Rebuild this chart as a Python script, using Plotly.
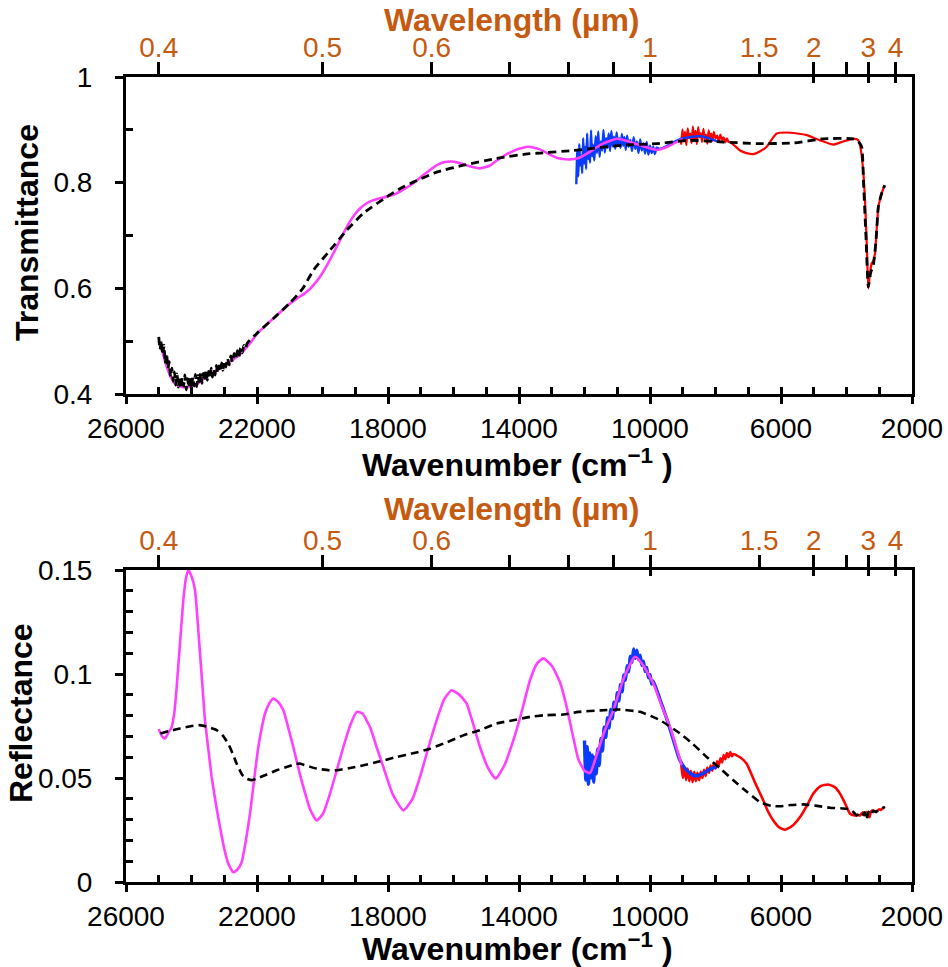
import plotly.graph_objects as go

# ================= TOP PANEL: Transmittance =================
# magenta (UV-Vis measured)
t_vis_wn = [25000, 24900, 24800, 24700, 24600, 24450, 24250, 24000, 23750, 23536, 23200, 22925,
            22600, 22418, 22200, 22010, 21750, 21500, 21250, 21000, 20750, 20483, 20276, 20076,
            19870, 19670, 19460, 19261, 19050, 18855, 18650, 18448, 18150, 17838, 17530, 17227,
            16970, 16718, 16480, 16260, 16030, 15802, 15500, 15191, 14900, 14700, 14479, 14100,
            13716, 13359, 13053, 12800, 12443, 12200, 11900, 11500, 11017, 10700, 10305, 10000,
            9796, 9500, 9250, 9084, 9000]
t_vis = [0.500, 0.482, 0.460, 0.442, 0.428, 0.417, 0.413, 0.414, 0.422, 0.434, 0.446, 0.457,
         0.471, 0.481, 0.497, 0.513, 0.529, 0.543, 0.557, 0.571, 0.582, 0.593, 0.606, 0.622,
         0.643, 0.666, 0.692, 0.716, 0.737, 0.751, 0.761, 0.767, 0.772, 0.777, 0.787, 0.799,
         0.812, 0.824, 0.834, 0.839, 0.840, 0.837, 0.831, 0.827, 0.832, 0.841, 0.850, 0.862,
         0.868, 0.863, 0.853, 0.846, 0.844, 0.846, 0.856, 0.872, 0.883, 0.879, 0.871, 0.865,
         0.862, 0.867, 0.875, 0.880, 0.882]

# blue (NIR measured), noisy part then smooth part
t_nir_wn = [12250, 12220, 12190, 12160, 12130, 12100, 12070, 12040, 12010, 11980, 11950, 11920,
            11890, 11860, 11830, 11800, 11770, 11740, 11700, 11660, 11620, 11580, 11540, 11500,
            11460, 11420, 11380, 11340, 11300, 11260, 11220, 11180, 11140, 11100, 11060, 11020,
            10980, 10940, 10900, 10860, 10820, 10780, 10740, 10700, 10650, 10600, 10550, 10500,
            10450, 10400, 10350, 10300, 10250, 10200, 10150, 10100, 10050, 10000, 9950, 9900,
            9850, 9800, 9700, 9500, 9300, 9100, 8900, 8700, 8500, 8300, 8100, 7950]
t_nir = [0.797, 0.862, 0.812, 0.873, 0.833, 0.851, 0.818, 0.884, 0.836, 0.868, 0.826, 0.893,
         0.845, 0.861, 0.838, 0.899, 0.850, 0.872, 0.842, 0.888, 0.856, 0.897, 0.849, 0.878,
         0.861, 0.900, 0.857, 0.884, 0.866, 0.893, 0.860, 0.898, 0.869, 0.887, 0.864, 0.895,
         0.871, 0.884, 0.866, 0.892, 0.870, 0.886, 0.862, 0.889, 0.868, 0.881, 0.860, 0.886,
         0.864, 0.878, 0.856, 0.882, 0.861, 0.874, 0.855, 0.877, 0.853, 0.870, 0.856, 0.868,
         0.854, 0.866, 0.864, 0.869, 0.876, 0.882, 0.885, 0.887, 0.888, 0.886, 0.882, 0.878]

# red (FTIR measured)
t_ir_wn = [9050, 9010, 8970, 8930, 8890, 8850, 8810, 8770, 8730, 8690, 8650, 8610, 8570, 8530,
           8490, 8450, 8410, 8370, 8330, 8290, 8250, 8210, 8170, 8130, 8090, 8050, 8000, 7950,
           7900, 7850, 7800, 7750, 7700, 7650, 7600, 7557, 7400, 7252, 7050, 6845, 6650, 6438,
           6280, 6132, 5827, 5500, 5216, 4800, 4402, 4100, 3792, 3650, 3588, 3500, 3435, 3380,
           3334, 3290, 3232, 3180, 3130, 3080, 3028, 2960, 2875, 2830]
t_ir = [0.872, 0.901, 0.878, 0.896, 0.871, 0.903, 0.884, 0.893, 0.875, 0.906, 0.880, 0.898,
        0.873, 0.905, 0.886, 0.894, 0.877, 0.902, 0.883, 0.891, 0.874, 0.899, 0.885, 0.893,
        0.879, 0.896, 0.884, 0.889, 0.878, 0.891, 0.881, 0.886, 0.876, 0.884, 0.877, 0.877,
        0.869, 0.861, 0.856, 0.854, 0.859, 0.868, 0.882, 0.893, 0.895, 0.893, 0.890, 0.880,
        0.872, 0.878, 0.883, 0.881, 0.871, 0.830, 0.767, 0.680, 0.600, 0.625, 0.647, 0.652,
        0.666, 0.710, 0.754, 0.772, 0.789, 0.795]

# black dashed (model / combined)
t_fit_wn = [25000, 24960, 24920, 24880, 24840, 24800, 24760, 24720, 24680, 24640, 24600, 24560,
            24520, 24480, 24440, 24400, 24360, 24320, 24280, 24240, 24200, 24160, 24120, 24080,
            24040, 24000, 23960, 23920, 23880, 23840, 23800, 23760, 23720, 23680, 23640, 23600,
            23560, 23520, 23480, 23440, 23400, 23360, 23320, 23280, 23240, 23200, 23160, 23120,
            23080, 23040, 23000, 22950, 22900, 22850, 22800, 22750, 22700, 22650, 22600, 22550,
            22500, 22450, 22400, 22350, 22300, 22000, 21500, 21000, 20600, 20280, 19771, 19261,
            18753, 18041, 17600, 17227, 16514, 15700, 14682, 13664, 13359, 12341, 10815, 9796,
            8779, 7762, 6743, 5625, 4708, 3792, 3650, 3537, 3480, 3400, 3334, 3260, 3181, 3100,
            3028, 2950, 2875, 2830]
t_fit = [0.508, 0.484, 0.502, 0.474, 0.492, 0.458, 0.477, 0.448, 0.461, 0.432, 0.449, 0.424,
         0.442, 0.417, 0.438, 0.413, 0.433, 0.410, 0.431, 0.415, 0.436, 0.408, 0.429, 0.412,
         0.434, 0.410, 0.432, 0.415, 0.437, 0.414, 0.435, 0.418, 0.440, 0.420, 0.439, 0.424,
         0.445, 0.426, 0.443, 0.430, 0.449, 0.432, 0.448, 0.436, 0.454, 0.439, 0.453, 0.442,
         0.459, 0.445, 0.462, 0.451, 0.468, 0.455, 0.472, 0.460, 0.477, 0.466, 0.482, 0.471,
         0.487, 0.478, 0.492, 0.486, 0.496, 0.515, 0.543, 0.572, 0.600, 0.634, 0.672, 0.710,
         0.742, 0.773, 0.790, 0.801, 0.820, 0.833, 0.846, 0.855, 0.856, 0.861, 0.871, 0.874,
         0.880, 0.877, 0.874, 0.875, 0.883, 0.883, 0.879, 0.868, 0.800, 0.690, 0.603, 0.630,
         0.644, 0.690, 0.754, 0.775, 0.789, 0.795]

# ================= BOTTOM PANEL: Reflectance =================
r_vis_wn = [25000, 24900, 24809, 24700, 24605, 24520, 24452, 24350, 24250, 24170, 24098, 24000,
            23893, 23820, 23740, 23660, 23588, 23480, 23384, 23250, 23130, 23000, 22876, 22723,
            22600, 22468, 22340, 22214, 22090, 21960, 21856, 21756, 21620, 21502, 21350, 21196,
            21050, 20891, 20740, 20586, 20380, 20178, 19980, 19771, 19560, 19364, 19150, 18957,
            18780, 18550, 18350, 18143, 17850, 17532, 17250, 17023, 16760, 16514, 16280, 16056,
            15820, 15598, 15400, 15191, 14950, 14712, 14450, 14173, 13950, 13664, 13450, 13257,
            13000, 12748, 12545, 12350, 12188, 12000, 11832, 11650, 11400, 11120, 10800, 10458,
            10200, 9898, 9650, 9389, 9200, 9033]
r_vis = [0.0735, 0.0700, 0.0690, 0.0720, 0.0745, 0.0820, 0.0938, 0.1150, 0.1355, 0.1460, 0.1500,
         0.1470, 0.1404, 0.1270, 0.1099, 0.0930, 0.0778, 0.0630, 0.0505, 0.0370, 0.0264, 0.0160,
         0.0088, 0.0047, 0.0060, 0.0095, 0.0200, 0.0328, 0.0490, 0.0649, 0.0740, 0.0810, 0.0860,
         0.0882, 0.0865, 0.0826, 0.0745, 0.0649, 0.0550, 0.0457, 0.0350, 0.0296, 0.0330, 0.0425,
         0.0540, 0.0649, 0.0755, 0.0818, 0.0810, 0.0745, 0.0650, 0.0553, 0.0420, 0.0344, 0.0400,
         0.0505, 0.0650, 0.0778, 0.0880, 0.0922, 0.0900, 0.0858, 0.0760, 0.0649, 0.0550, 0.0497,
         0.0560, 0.0681, 0.0800, 0.0970, 0.1050, 0.1075, 0.1040, 0.0960, 0.0842, 0.0700, 0.0590,
         0.0535, 0.0524, 0.0600, 0.0720, 0.0826, 0.0980, 0.1083, 0.1040, 0.0954, 0.0850, 0.0745,
         0.0650, 0.0561]

r_nir_wn = [12000, 11960, 11920, 11880, 11840, 11800, 11760, 11720, 11680, 11640, 11600, 11550,
            11500, 11450, 11400, 11350, 11300, 11250, 11200, 11150, 11100, 11050, 11000, 10950,
            10900, 10850, 10800, 10750, 10700, 10650, 10600, 10550, 10500, 10450, 10400, 10350,
            10300, 10250, 10200, 10150, 10100, 10050, 10000, 9950, 9900, 9700, 9500, 9300, 9100,
            8900, 8700, 8576, 8400, 8200, 7964]
r_nir = [0.0680, 0.0490, 0.0650, 0.0470, 0.0620, 0.0500, 0.0610, 0.0480, 0.0600, 0.0520, 0.0640,
         0.0560, 0.0690, 0.0630, 0.0745, 0.0695, 0.0790, 0.0740, 0.0830, 0.0785, 0.0865, 0.0825,
         0.0910, 0.0870, 0.0950, 0.0915, 0.0995, 0.0970, 0.1040, 0.1010, 0.1085, 0.1055, 0.1120,
         0.1075, 0.1115, 0.1068, 0.1090, 0.1042, 0.1062, 0.1012, 0.1032, 0.0982, 0.0998, 0.0952,
         0.0966, 0.0880, 0.0790, 0.0690, 0.0590, 0.0540, 0.0515, 0.0510, 0.0520, 0.0540, 0.0555]

r_ir_wn = [9050, 9000, 8950, 8900, 8850, 8800, 8750, 8700, 8650, 8600, 8550, 8500, 8450, 8400,
           8350, 8300, 8250, 8200, 8150, 8100, 8050, 8000, 7950, 7900, 7850, 7800, 7750, 7700,
           7650, 7600, 7550, 7500, 7456, 7250, 7048, 6800, 6540, 6400, 6235, 6050, 5878, 5650,
           5420, 5200, 5013, 4800, 4555, 4350, 4198, 4050, 3893, 3750, 3650, 3588, 3500, 3450,
           3384, 3300, 3250, 3181, 3100, 3000, 2950, 2875, 2830]
r_ir = [0.0570, 0.0500, 0.0555, 0.0490, 0.0545, 0.0485, 0.0535, 0.0480, 0.0530, 0.0485, 0.0525,
        0.0490, 0.0530, 0.0500, 0.0540, 0.0510, 0.0550, 0.0525, 0.0560, 0.0535, 0.0570, 0.0545,
        0.0580, 0.0560, 0.0595, 0.0575, 0.0610, 0.0590, 0.0620, 0.0600, 0.0625, 0.0605, 0.0615,
        0.0600, 0.0569, 0.0480, 0.0392, 0.0340, 0.0296, 0.0262, 0.0251, 0.0270, 0.0312, 0.0370,
        0.0425, 0.0460, 0.0469, 0.0455, 0.0425, 0.0380, 0.0328, 0.0320, 0.0322, 0.0320, 0.0335,
        0.0322, 0.0336, 0.0312, 0.0340, 0.0344, 0.0338, 0.0350, 0.0346, 0.0357, 0.0360]

r_fit_wn = [24950, 24700, 24351, 24000, 23740, 23500, 23231, 23050, 22876, 22750, 22621, 22450,
            22316, 22150, 22010, 21700, 21400, 21050, 20800, 20687, 20400, 20178, 19800, 19567,
            19200, 18753, 18250, 17735, 17200, 16718, 16200, 15700, 15191, 14682, 14173, 13664,
            13200, 12646, 12188, 11500, 10916, 10305, 9695, 9084, 8700, 8270, 7850, 7456, 7050,
            6641, 6300, 6031, 5700, 5318, 4900, 4504, 3995, 3850, 3750, 3690, 3600, 3520, 3450,
            3384, 3330, 3260, 3181, 3100, 3000, 2875, 2830]
r_fit = [0.0714, 0.0725, 0.0738, 0.0750, 0.0754, 0.0745, 0.0730, 0.0705, 0.0665, 0.0620, 0.0569,
         0.0515, 0.0497, 0.0490, 0.0497, 0.0517, 0.0537, 0.0555, 0.0568, 0.0569, 0.0555, 0.0545,
         0.0537, 0.0537, 0.0547, 0.0561, 0.0580, 0.0601, 0.0620, 0.0641, 0.0672, 0.0705, 0.0730,
         0.0762, 0.0778, 0.0794, 0.0802, 0.0805, 0.0818, 0.0825, 0.0829, 0.0818, 0.0778, 0.0714,
         0.0665, 0.0601, 0.0545, 0.0489, 0.0435, 0.0384, 0.0366, 0.0364, 0.0370, 0.0373, 0.0366,
         0.0357, 0.0352, 0.0345, 0.0330, 0.0320, 0.0328, 0.0318, 0.0335, 0.0300, 0.0338, 0.0322,
         0.0342, 0.0336, 0.0350, 0.0357, 0.0362]

# ---- axis tick definitions ----
wn_major = [26000, 22000, 18000, 14000, 10000, 6000, 2000]
wn_minor = [w for w in range(25000, 2000, -1000) if w not in wn_major]
wl_ticks = [0.4, 0.5, 0.6, 0.7, 0.8, 0.9, 1, 1.5, 2, 2.5, 3, 4]
wl_labels = ["0.4", "0.5", "0.6", "", "", "", "1", "1.5", "2", "", "3", "4"]
wl_cross = [1, 2, 3, 4]
t_major = [0.4, 0.6, 0.8, 1.0]
t_major_text = ["0.4", "0.6", "0.8", "1"]
t_minor = [0.5, 0.7, 0.9]
r_major = [0, 0.05, 0.10, 0.15]
r_major_text = ["0", "0.05", "0.1", "0.15"]
r_minor = [0.01, 0.02, 0.03, 0.04, 0.06, 0.07, 0.08, 0.09, 0.11, 0.12, 0.13, 0.14]

MAGENTA = "#FF40FF"
BLUE = "#0A3CFF"
RED = "#FF0000"
ORANGE = "#C55A11"
FONT = "Liberation Sans, Arial, sans-serif"
TICKSZ = 28
TITLESZ = 32

fig = go.Figure()


def add(x, y, color, width, xa, ya, dash=None):
    fig.add_trace(go.Scatter(x=x, y=y, mode="lines", xaxis=xa, yaxis=ya,
                             line=dict(color=color, width=width, dash=dash, shape="spline", smoothing=0.5),
                             showlegend=False, hoverinfo="skip"))


# top panel traces (draw order: red, blue, magenta, dashed)
add(t_ir_wn, t_ir, RED, 2.2, "x", "y")
add(t_nir_wn, t_nir, BLUE, 2.4, "x", "y")
add(t_vis_wn, t_vis, MAGENTA, 2.6, "x", "y")
add(t_fit_wn, t_fit, "black", 2.8, "x", "y", dash="8px,5px")
# bottom panel traces
add(r_ir_wn, r_ir, RED, 2.6, "x3", "y2")
add(r_nir_wn, r_nir, BLUE, 3.4, "x3", "y2")
add(r_vis_wn, r_vis, MAGENTA, 2.6, "x3", "y2")
add(r_fit_wn, r_fit, "black", 2.6, "x3", "y2", dash="8px,5px")

# empty traces to anchor the overlay axes
for xa, ya in [("x2", "y"), ("x5", "y"), ("x7", "y"), ("x4", "y2"), ("x6", "y2"), ("x8", "y2")]:
    fig.add_trace(go.Scatter(x=[None], y=[None], xaxis=xa, yaxis=ya, showlegend=False, hoverinfo="skip"))

wl_pos = [10000 / w for w in wl_ticks]
cross_pos = [10000 / w for w in wl_cross]
RANGE = [26000, 2000]

base_x = dict(range=RANGE, showgrid=False, zeroline=False, fixedrange=True, automargin=False)


def wn_axis(anchor):
    return dict(base_x, anchor=anchor, tickmode="array", tickvals=wn_major,
                ticktext=[str(v) for v in wn_major],
                ticks="outside", ticklen=7, tickwidth=2.5, tickcolor="black",
                showline=True, linewidth=3, linecolor="black",
                tickfont=dict(family=FONT, size=TICKSZ, color="black"), ticklabelstandoff=0,
                minor=dict(tickmode="array", tickvals=wn_minor, ticks="inside", ticklen=7,
                           tickwidth=2.5, tickcolor="black", showgrid=False))


def wn_cross(over, anchor):
    return dict(base_x, overlaying=over, anchor=anchor, tickmode="array", tickvals=wn_major,
                ticks="inside", ticklen=7, tickwidth=2.5, tickcolor="black",
                showticklabels=False, showline=False)


def wl_axis(over, anchor):
    return dict(base_x, overlaying=over, anchor=anchor, side="top", tickmode="array",
                tickvals=wl_pos, ticktext=wl_labels,
                ticks="outside", ticklen=12, tickwidth=2.5, tickcolor="black",
                showline=True, linewidth=3, linecolor="black",
                tickfont=dict(family=FONT, size=TICKSZ, color=ORANGE), ticklabelstandoff=-6)


def wl_cross_axis(over, anchor):
    return dict(base_x, overlaying=over, anchor=anchor, side="top", tickmode="array",
                tickvals=cross_pos, ticks="inside", ticklen=6, tickwidth=2.5, tickcolor="black",
                showticklabels=False, showline=False)


def y_axis(domain, anchor, rng, major, text, minor):
    return dict(domain=domain, anchor=anchor, range=rng, tickmode="array", tickvals=major,
                ticktext=text, ticks="outside", ticklen=8, tickwidth=2.5, tickcolor="black",
                showline=True, linewidth=3, linecolor="black", mirror=True,
                showgrid=False, zeroline=False, fixedrange=True, automargin=False,
                tickfont=dict(family=FONT, size=TICKSZ, color="black"), ticklabelstandoff=17,
                minor=dict(tickmode="array", tickvals=minor, ticks="inside", ticklen=7,
                           tickwidth=2.5, tickcolor="black", showgrid=False))


H_PLOT = 805.0


def py(pix):
    return (882.0 - pix) / H_PLOT


def px(pix):
    return (pix - 126.0) / 786.0


fig.update_layout(
    template="none",
    width=948, height=967,
    margin=dict(l=126, r=36, t=77, b=85, pad=0, autoexpand=False),
    paper_bgcolor="white", plot_bgcolor="white",
    font=dict(family=FONT, color="black"),
    showlegend=False,
    xaxis=wn_axis("y"),
    xaxis2=wl_axis("x", "y"),
    xaxis5=wn_cross("x", "y"),
    xaxis7=wl_cross_axis("x", "y"),
    xaxis3=wn_axis("y2"),
    xaxis4=wl_axis("x3", "y2"),
    xaxis6=wn_cross("x3", "y2"),
    xaxis8=wl_cross_axis("x3", "y2"),
    yaxis=y_axis([py(394), 1.0], "x", [0.4, 1.0], t_major, t_major_text, t_minor),
    yaxis2=y_axis([0.0, py(570)], "x3", [0.0, 0.15], r_major, r_major_text, r_minor),
)


def title(text, xp, yp, color="black", angle=0):
    return dict(text=text, x=px(xp), y=py(yp), xref="paper", yref="paper", xanchor="center",
                yanchor="middle", showarrow=False, textangle=angle,
                font=dict(family=FONT, size=TITLESZ, color=color))


ann = [
    title("<b>Wavelength (µm)</b>", 511, 20, ORANGE),
    title("<b>Wavelength (µm)</b>", 511, 509, ORANGE),
    title("<b>Wavenumber (cm<sup>−1</sup> )</b>", 517, 463),
    title("<b>Wavenumber (cm<sup>−1</sup> )</b>", 517, 947),
    title("<b>Transmittance</b>", 27, 233, angle=-90),
    title("<b>Reflectance</b>", 21, 713, angle=-90),
]
fig.update_layout(annotations=ann)

fig.write_html("out.html", config={"displayModeBar": False},
               post_script="document.body.style.margin='0px';document.body.style.padding='0px';")
